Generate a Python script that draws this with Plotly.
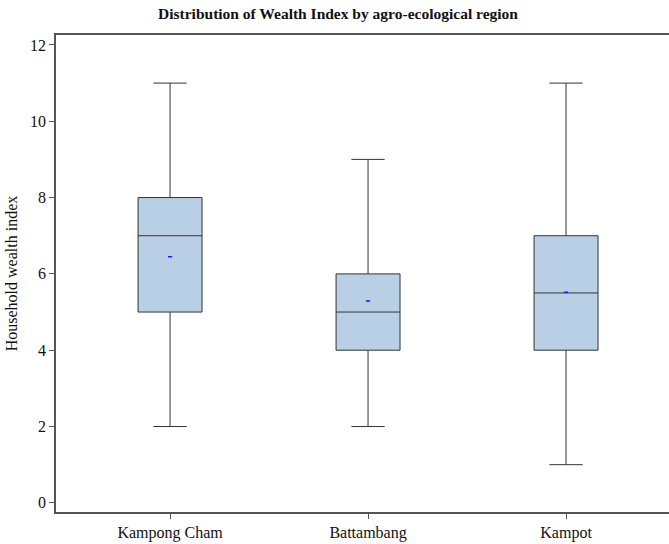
import plotly.graph_objects as go

# Household wealth index summary statistics per agro-ecological region
regions = ["Kampong Cham", "Battambang", "Kampot"]
lower_whisker = [2, 2, 1]
q1 = [5, 4, 4]
median = [7, 5, 5.5]
q3 = [8, 6, 7]
upper_whisker = [11, 9, 11]
mean = [6.45, 5.29, 5.52]

font_family = "Liberation Serif"
axis_color = "#555555"

fig = go.Figure()

fig.add_trace(go.Box(
    x=regions,
    q1=q1,
    median=median,
    q3=q3,
    lowerfence=lower_whisker,
    upperfence=upper_whisker,
    width=0.323,
    whiskerwidth=0.52,
    fillcolor="#b9cfe6",
    line=dict(color="#333333", width=1),
    boxpoints=False,
    hoverinfo="skip",
    showlegend=False,
))

# Mean marker: short blue dash inside each box
fig.add_trace(go.Scatter(
    x=regions,
    y=mean,
    mode="markers",
    marker=dict(symbol="line-ew", size=3, line=dict(color="#1a1aff", width=1.5)),
    hoverinfo="skip",
    showlegend=False,
))

fig.update_layout(
    width=669,
    height=544,
    margin=dict(l=56, r=0, t=35, b=32),
    paper_bgcolor="white",
    plot_bgcolor="white",
    font=dict(family=font_family, size=16, color="#111111"),
    title=dict(
        text="<b>Distribution of Wealth Index by agro-ecological region</b>",
        x=338 / 669,
        xref="container",
        xanchor="center",
        y=1 - 14 / 544,
        yref="container",
        yanchor="middle",
        font=dict(family=font_family, size=15.5, color="#111111"),
    ),
    xaxis=dict(
        range=[-0.576, 2.52],
        showline=True,
        linecolor=axis_color,
        linewidth=1.5,
        mirror=True,
        ticks="outside",
        ticklen=5,
        tickcolor=axis_color,
        showgrid=False,
        zeroline=False,
        tickfont=dict(size=16),
    ),
    yaxis=dict(
        title=dict(text="Household wealth index", font=dict(size=16), standoff=8),
        range=[-0.24, 12.26],
        tickvals=[0, 2, 4, 6, 8, 10, 12],
        showline=True,
        linecolor=axis_color,
        linewidth=1.5,
        ticks="outside",
        ticklen=5,
        tickcolor=axis_color,
        showgrid=False,
        zeroline=False,
        tickfont=dict(size=16),
    ),
)

fig.write_html("out.html")
